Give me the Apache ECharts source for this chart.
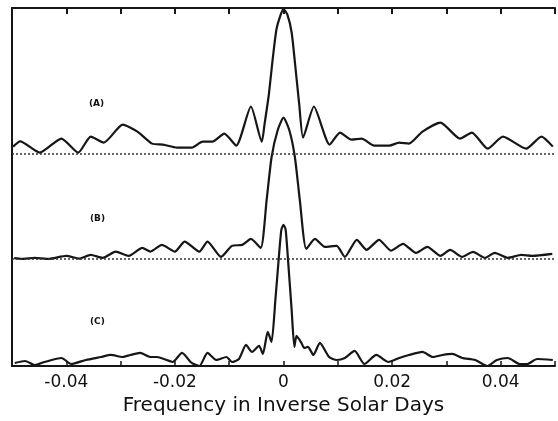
<!DOCTYPE html>
<html>
<head>
<meta charset="utf-8">
<script src="https://cdn.jsdelivr.net/npm/echarts@6/dist/echarts.min.js"></script>
<style>html,body{margin:0;padding:0;background:#fff;}#c{width:558px;height:421px;}</style>
</head>
<body>
<div id="c"></div>
<script>
// Frequencies (inverse solar days) and normalized amplitudes
const freqA = [-0.0498,-0.0485,-0.0449,-0.0409,-0.0378,-0.0355,-0.0331,-0.0296,-0.0269,-0.0242,-0.0222,-0.0196,-0.0169,-0.0149,-0.0131,-0.0109,-0.0087,-0.0060,-0.0040,-0.0035,-0.0027,-0.0020,-0.0013,-0.0005,0.0000,0.0007,0.0015,0.0022,0.0029,0.0036,0.0056,0.0085,0.0104,0.0125,0.0144,0.0167,0.0195,0.0213,0.0231,0.0256,0.0289,0.0325,0.0347,0.0376,0.0404,0.0447,0.0475,0.0496];
const ampA  = [0.056,0.093,0.014,0.112,0.014,0.126,0.084,0.210,0.161,0.077,0.070,0.049,0.049,0.091,0.091,0.147,0.063,0.336,0.091,0.210,0.420,0.664,0.874,0.979,1.017,0.979,0.853,0.608,0.350,0.119,0.336,0.070,0.154,0.105,0.112,0.063,0.063,0.084,0.077,0.161,0.224,0.112,0.154,0.042,0.126,0.042,0.126,0.056];

const freqB = [-0.0496,-0.0482,-0.0458,-0.0433,-0.0400,-0.0376,-0.0355,-0.0333,-0.0309,-0.0285,-0.0260,-0.0245,-0.0224,-0.0200,-0.0182,-0.0155,-0.0140,-0.0115,-0.0095,-0.0076,-0.0060,-0.0042,-0.0031,-0.0022,-0.0011,0.0000,0.0011,0.0021,0.0030,0.0042,0.0058,0.0076,0.0098,0.0113,0.0135,0.0153,0.0176,0.0198,0.0220,0.0244,0.0265,0.0289,0.0307,0.0329,0.0349,0.0371,0.0389,0.0413,0.0438,0.0458,0.0495];
const ampB  = [0.005,0.000,0.007,0.000,0.021,0.002,0.028,0.007,0.051,0.021,0.077,0.051,0.098,0.051,0.121,0.051,0.121,0.014,0.091,0.098,0.140,0.077,0.413,0.710,0.895,0.986,0.895,0.710,0.413,0.070,0.140,0.084,0.091,0.014,0.133,0.063,0.133,0.058,0.105,0.042,0.084,0.021,0.063,0.014,0.049,0.007,0.042,0.007,0.028,0.021,0.035];

const freqC = [-0.0495,-0.0476,-0.0458,-0.0440,-0.0409,-0.0391,-0.0364,-0.0336,-0.0318,-0.0296,-0.0282,-0.0264,-0.0245,-0.0233,-0.0215,-0.0204,-0.0187,-0.0169,-0.0155,-0.0140,-0.0124,-0.0105,-0.0095,-0.0082,-0.0069,-0.0058,-0.0045,-0.0038,-0.0029,-0.0022,-0.0015,-0.0009,-0.0004,0.0000,0.0004,0.0009,0.0015,0.0020,0.0024,0.0033,0.0038,0.0045,0.0055,0.0067,0.0084,0.0098,0.0113,0.0131,0.0149,0.0171,0.0193,0.0213,0.0231,0.0256,0.0275,0.0293,0.0311,0.0329,0.0353,0.0375,0.0393,0.0413,0.0435,0.0449,0.0467,0.0496];
const ampC  = [0.021,0.035,0.007,0.028,0.056,0.014,0.042,0.063,0.077,0.063,0.077,0.091,0.063,0.063,0.042,0.028,0.091,0.021,0.000,0.091,0.042,0.063,0.028,0.049,0.147,0.098,0.140,0.084,0.238,0.168,0.460,0.740,0.951,0.986,0.951,0.706,0.392,0.133,0.210,0.161,0.126,0.133,0.077,0.161,0.063,0.042,0.056,0.105,0.014,0.077,0.028,0.056,0.077,0.098,0.063,0.077,0.084,0.056,0.042,0.000,0.042,0.056,0.014,0.014,0.049,0.042];

// vertical offsets of the stacked traces (baselines)
const offsetA = 1.476, offsetB = 0.748, offsetC = 0;
const xTicks = [-0.04, -0.02, 0, 0.02, 0.04];

function build(f, a, off) { return f.map((x, i) => [x, a[i] + off]); }

const ink = '#161616';
const lineSeries = (name, data, base) => ({
  name, type: 'line', data, showSymbol: false, smooth: 0.2,
  lineStyle: { color: ink, width: 2.2 },
  xAxisIndex: 0, yAxisIndex: 0, silent: true,
  markLine: base === null ? undefined : {
    silent: true, symbol: ['none', 'none'], label: { show: false },
    lineStyle: { color: '#333', type: [2, 2], width: 1.5 },
    data: [{ yAxis: base }]
  }
});

const chart = echarts.init(document.getElementById('c'), null, { renderer: 'canvas' });
chart.setOption({
  animation: false,
  backgroundColor: '#fff',
  grid: { left: 12, right: 1, top: 8, bottom: 55 },
  xAxis: [{
    type: 'value', position: 'bottom', min: -0.05, max: 0.05, interval: 0.01,
    axisLine: { show: true, onZero: false, lineStyle: { color: ink, width: 2 } },
    axisTick: { show: true, inside: true, length: 5, lineStyle: { color: ink, width: 1.5 } },
    splitLine: { show: false },
    axisLabel: {
      color: '#111', fontSize: 17, fontFamily: 'DejaVu Sans', margin: 8,
      formatter: v => {
        const k = Math.round(v * 100);
        if (!xTicks.some(t => Math.round(t * 100) === k)) return '';
        return k === 0 ? '0' : (k / 100).toFixed(2);
      }
    },
    name: 'Frequency in Inverse Solar Days', nameLocation: 'middle', nameGap: 26,
    nameTextStyle: { color: '#111', fontSize: 20, fontFamily: 'DejaVu Sans' }
  }, {
    type: 'value', position: 'top', min: -0.05, max: 0.05, interval: 0.01,
    axisLine: { show: true, onZero: false, lineStyle: { color: ink, width: 2 } },
    axisTick: { show: true, inside: true, length: 6, lineStyle: { color: ink, width: 2 } },
    axisLabel: { show: false }, splitLine: { show: false }
  }],
  yAxis: [{
    type: 'value', min: 0, max: 2.5,
    axisLine: { show: true, onZero: false, lineStyle: { color: ink, width: 2 } },
    axisTick: { show: false }, axisLabel: { show: false }, splitLine: { show: false }
  }],
  series: [
    lineSeries('A', build(freqA, ampA, offsetA), offsetA),
    lineSeries('B', build(freqB, ampB, offsetB), offsetB),
    lineSeries('C', build(freqC, ampC, offsetC), null)
  ],
  graphic: [
    { type: 'text', left: 89, top: 99, style: { text: '(A)', fill: '#111', font: 'bold 9px DejaVu Sans' } },
    { type: 'text', left: 90, top: 214, style: { text: '(B)', fill: '#111', font: 'bold 9px DejaVu Sans' } },
    { type: 'text', left: 90, top: 317, style: { text: '(C)', fill: '#111', font: 'bold 9px DejaVu Sans' } }
  ]
});
</script>
</body>
</html>
